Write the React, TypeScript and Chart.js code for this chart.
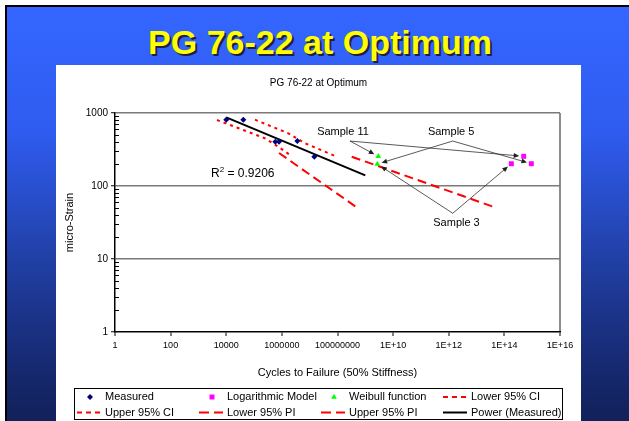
import React, { useEffect, useRef } from 'react';
import { Chart, registerables } from 'chart.js';
Chart.register(...registerables);

// ---- data ----
const measuredX = [1.0e4, 4.1e4, 5.8e5, 7.9e5, 3.6e6, 1.47e7];
const measuredY = [810, 810, 405, 405, 413, 252];
const logModelX = [4.95e14, 1.78e14, 9.3e14];
const logModelY = [255, 202, 202];
const weibullX = [2.93e9, 2.7e9];
const weibullY = [255, 200];
const lowerCIX = [4.65e3, 2.47e5, 7.45e5, 1.96e6];
const lowerCIY = [802, 450, 345, 266];
const upperCIX = [1.08e5, 1.7e6, 6.8e6, 9.4e7];
const upperCIY = [810, 527, 385, 252];
const lowerPIX = [7.9e5, 4.9e8];
const lowerPIY = [283, 51];
const upperPIX = [3.24e8, 5.3e13];
const upperPIY = [252, 50];
const powerX = [1e4, 1e9];
const powerY = [873, 140];

const xTickValues = [1, 1e2, 1e4, 1e6, 1e8, 1e10, 1e12, 1e14, 1e16];
const xTickLabels = ['1', '100', '10000', '1000000', '100000000', '1E+10', '1E+12', '1E+14', '1E+16'];
const yTickValues = [1, 10, 100, 1000];
const yTickLabels = ['1', '10', '100', '1000'];

const seriesNames = [
  'Measured', 'Logarithmic Model', 'Weibull function', 'Lower 95% CI',
  'Upper 95% CI', 'Lower 95% PI', 'Upper 95% PI', 'Power (Measured)',
];

const chartTitle = 'PG 76-22 at Optimum';
const slideTitle = 'PG 76-22 at Optimum';
const rSquaredText = '0.9206';
const rSquaredAt = { x: 2830, y: 152 };

// callouts: label position, line origin, and [dataset, point] targets
const callouts = [
  { text: 'Sample 11', tx: 1.58e8, ty: 545, ox: 2.81e8, oy: 413, targets: [[2, 0], [1, 0]] },
  { text: 'Sample 5', tx: 1.22e12, ty: 545, ox: 1.39e12, oy: 413, targets: [[2, 1], [1, 2]] },
  { text: 'Sample 3', tx: 1.9e12, ty: 30.8, ox: 1.39e12, oy: 42.3, targets: [[2, 1], [1, 1]] },
];

const FONT = "Arial, 'Liberation Sans', sans-serif";

const zip = (xs: number[], ys: number[]) => xs.map((x, i) => ({ x, y: ys[i] }));

const legendDash: Record<number, number[]> = { 3: [5, 4], 4: [5, 4], 5: [10, 5], 6: [10, 5], 7: [] };

function drawMarker(ctx: CanvasRenderingContext2D, style: string, r: number, x: number, y: number) {
  ctx.beginPath();
  if (style === 'rectRot') {
    ctx.moveTo(x, y - r);
    ctx.lineTo(x + r, y);
    ctx.lineTo(x, y + r);
    ctx.lineTo(x - r, y);
  } else if (style === 'rect') {
    const s = r * Math.SQRT1_2;
    ctx.rect(x - s, y - s, 2 * s, 2 * s);
  } else if (style === 'triangle') {
    ctx.moveTo(x, y - r);
    ctx.lineTo(x + r * Math.sin((2 * Math.PI) / 3), y - r * Math.cos((2 * Math.PI) / 3));
    ctx.lineTo(x + r * Math.sin((4 * Math.PI) / 3), y - r * Math.cos((4 * Math.PI) / 3));
  }
  ctx.closePath();
  ctx.fill();
}

const overlayPlugin = {
  id: 'overlay',
  afterDatasetsDraw(chart: any) {
    const ctx = chart.ctx as CanvasRenderingContext2D;
    const xs = chart.scales.x;
    const ys = chart.scales.y;
    const area = chart.chartArea;
    ctx.save();
    // chart title, centred on the panel
    ctx.font = `10px ${FONT}`;
    ctx.fillStyle = '#000';
    ctx.textAlign = 'center';
    ctx.textBaseline = 'middle';
    ctx.fillText(chartTitle, chart.width / 2, 18);
    // minor ticks on y axis (inside)
    ctx.strokeStyle = '#000';
    ctx.lineWidth = 1;
    for (let k = 0; k < 3; k++) {
      for (let m = 2; m <= 9; m++) {
        const py = Math.round(ys.getPixelForValue(m * Math.pow(10, k))) + 0.5;
        ctx.beginPath();
        ctx.moveTo(area.left, py);
        ctx.lineTo(area.left + 4, py);
        ctx.stroke();
      }
    }
    // callouts
    ctx.font = `11px ${FONT}`;
    ctx.fillStyle = '#000';
    ctx.textAlign = 'center';
    ctx.textBaseline = 'middle';
    callouts.forEach((c) => {
      ctx.fillStyle = '#000';
      ctx.fillText(c.text, xs.getPixelForValue(c.tx), ys.getPixelForValue(c.ty));
      const ox = xs.getPixelForValue(c.ox);
      const oy = ys.getPixelForValue(c.oy);
      c.targets.forEach(([di, pi]) => {
        const pt = chart.data.datasets[di].data[pi];
        const px = xs.getPixelForValue(pt.x);
        const py = ys.getPixelForValue(pt.y);
        const dx = px - ox;
        const dy = py - oy;
        const len = Math.hypot(dx, dy);
        const ux = dx / len;
        const uy = dy / len;
        const ex = px - ux * 4.5;
        const ey = py - uy * 4.5;
        ctx.strokeStyle = '#303030';
        ctx.lineWidth = 0.8;
        ctx.beginPath();
        ctx.moveTo(ox, oy);
        ctx.lineTo(ex - ux * 4, ey - uy * 4);
        ctx.stroke();
        ctx.fillStyle = '#202020';
        ctx.beginPath();
        ctx.moveTo(ex, ey);
        ctx.lineTo(ex - ux * 5.5 - uy * 2.5, ey - uy * 5.5 + ux * 2.5);
        ctx.lineTo(ex - ux * 5.5 + uy * 2.5, ey - uy * 5.5 - ux * 2.5);
        ctx.closePath();
        ctx.fill();
      });
    });
    // R squared
    ctx.fillStyle = '#000';
    ctx.textAlign = 'left';
    ctx.textBaseline = 'alphabetic';
    let rx = xs.getPixelForValue(rSquaredAt.x);
    const ry = ys.getPixelForValue(rSquaredAt.y) + 4.5;
    ctx.font = `12px ${FONT}`;
    ctx.fillText('R', rx, ry);
    rx += ctx.measureText('R').width;
    ctx.font = `8px ${FONT}`;
    ctx.fillText('2', rx, ry - 5);
    rx += ctx.measureText('2').width;
    ctx.font = `12px ${FONT}`;
    ctx.fillText(' = ' + rSquaredText, rx, ry);
    ctx.restore();
  },
  afterDraw(chart: any) {
    const ctx = chart.ctx as CanvasRenderingContext2D;
    ctx.save();
    ctx.strokeStyle = '#000';
    ctx.lineWidth = 1;
    ctx.strokeRect(18.5, 323.5, 488, 31);
    const textX = [49, 171, 293, 415];
    const rowY = [332, 347.5];
    ctx.font = `11px ${FONT}`;
    ctx.textBaseline = 'middle';
    ctx.textAlign = 'left';
    chart.data.datasets.forEach((ds: any, i: number) => {
      const col = i % 4;
      const row = Math.floor(i / 4);
      const tx = textX[col];
      const ty = rowY[row];
      if (ds.showLine) {
        ctx.save();
        ctx.strokeStyle = ds.borderColor;
        ctx.lineWidth = ds.borderWidth;
        ctx.setLineDash(legendDash[i] || []);
        ctx.beginPath();
        ctx.moveTo(tx - 28, ty);
        ctx.lineTo(tx - 4, ty);
        ctx.stroke();
        ctx.restore();
      } else {
        ctx.save();
        ctx.fillStyle = ds.backgroundColor;
        drawMarker(ctx, ds.pointStyle, ds.pointRadius, tx - 15, ty);
        ctx.restore();
      }
      ctx.fillStyle = '#000';
      ctx.fillText(ds.label, tx, ty);
    });
    ctx.restore();
  },
};

export default function App() {
  const canvasRef = useRef<HTMLCanvasElement | null>(null);

  useEffect(() => {
    document.body.style.margin = '0';
    const canvas = canvasRef.current;
    if (!canvas) return;
    Chart.defaults.font.family = FONT;
    Chart.defaults.color = '#000';

    const pointDs = (label: string, xs: number[], ys: number[], color: string, style: string, r: number) => ({
      label,
      data: zip(xs, ys),
      showLine: false,
      pointStyle: style,
      pointRadius: r,
      backgroundColor: color,
      borderColor: color,
      pointBorderWidth: 0,
    });
    const lineDs = (label: string, xs: number[], ys: number[], color: string, dash: number[], w: number) => ({
      label,
      data: zip(xs, ys),
      showLine: true,
      pointRadius: 0,
      borderColor: color,
      backgroundColor: color,
      borderWidth: w,
      borderDash: dash,
      tension: 0,
      fill: false,
    });

    const chart = new Chart(canvas, {
      type: 'scatter',
      data: {
        datasets: [
          pointDs(seriesNames[0], measuredX, measuredY, '#000080', 'rectRot', 3),
          pointDs(seriesNames[1], logModelX, logModelY, '#FF00FF', 'rect', 3.5),
          pointDs(seriesNames[2], weibullX, weibullY, '#00FF00', 'triangle', 3.3),
          lineDs(seriesNames[3], lowerCIX, lowerCIY, '#FF0000', [3, 4], 2),
          lineDs(seriesNames[4], upperCIX, upperCIY, '#FF0000', [3, 4], 2),
          lineDs(seriesNames[5], lowerPIX, lowerPIY, '#FF0000', [9, 5], 2),
          lineDs(seriesNames[6], upperPIX, upperPIY, '#FF0000', [9, 5], 2),
          lineDs(seriesNames[7], powerX, powerY, '#000000', [], 2),
        ] as any,
      },
      options: {
        animation: false,
        responsive: false,
        maintainAspectRatio: false,
        events: [],
        layout: { padding: { top: 48, right: 21, left: 0, bottom: 39 } },
        plugins: {
          legend: { display: false },
          tooltip: { enabled: false },
          title: { display: false },
        },
        scales: {
          x: {
            type: 'logarithmic',
            min: 1,
            max: 1e16,
            afterBuildTicks: (scale: any) => {
              scale.ticks = xTickValues.map((v) => ({ value: v }));
            },
            afterFit: (scale: any) => {
              scale.height = 50;
            },
            ticks: {
              autoSkip: false,
              maxRotation: 0,
              padding: 4,
              font: { size: 9 },
              color: '#000',
              callback: (v: any) => {
                const i = xTickValues.indexOf(Number(v));
                return i >= 0 ? xTickLabels[i] : '';
              },
            },
            grid: {
              color: (c: any) => (c.tick && c.tick.value === 1e16 ? '#8c8c8c' : 'rgba(0,0,0,0)'),
              lineWidth: 2,
              tickLength: 4,
              tickColor: '#000',
              tickWidth: 1,
            },
            border: { display: true, color: '#000', width: 1.5 },
            title: {
              display: true,
              text: 'Cycles to Failure (50% Stiffness)',
              font: { size: 11 },
              color: '#000',
              padding: { top: 0, bottom: 2.4 },
            },
          },
          y: {
            type: 'logarithmic',
            min: 1,
            max: 1000,
            afterBuildTicks: (scale: any) => {
              scale.ticks = yTickValues.map((v) => ({ value: v }));
            },
            afterFit: (scale: any) => {
              scale.width = 59;
            },
            ticks: {
              padding: 3,
              font: { size: 10 },
              color: '#000',
              callback: (v: any) => {
                const i = yTickValues.indexOf(Number(v));
                return i >= 0 ? yTickLabels[i] : '';
              },
            },
            grid: {
              color: (c: any) => (c.tick && c.tick.value === 1 ? 'rgba(0,0,0,0)' : '#7a7a7a'),
              lineWidth: 1.5,
              tickLength: 4,
              tickColor: '#000',
              tickWidth: 1,
            },
            border: { display: true, color: '#000', width: 1.5 },
            title: {
              display: true,
              text: 'micro-Strain',
              font: { size: 11 },
              color: '#000',
              padding: { top: 7.4, bottom: 0 },
            },
          },
        },
      },
      plugins: [overlayPlugin],
    } as any);

    return () => chart.destroy();
  }, []);

  return (
    <div style={{ position: 'fixed', left: 0, top: 0, width: 629, height: 421, background: '#ffffff', overflow: 'hidden' }}>
      <div
        style={{
          position: 'absolute',
          left: 5,
          top: 5,
          width: 624,
          height: 416,
          boxSizing: 'border-box',
          borderTop: '2px solid #000',
          borderLeft: '2px solid #000',
          background: 'linear-gradient(to bottom, #3466ff 0%, #2f5cf0 30%, #1f3c9c 65%, #172a74 85%, #12215a 100%)',
        }}
      />
      <div
        style={{
          position: 'absolute',
          left: 0,
          top: 25,
          width: 640,
          textAlign: 'center',
          fontFamily: FONT,
          fontWeight: 'bold',
          fontSize: 34,
          lineHeight: '34px',
          color: '#FFFF00',
          textShadow: '2px 2px 0 #202040',
          whiteSpace: 'nowrap',
        }}
      >
        {slideTitle}
      </div>
      <div style={{ position: 'absolute', left: 56, top: 65, width: 525, height: 356, background: '#fff' }}>
        <canvas ref={canvasRef} width={525} height={356} style={{ width: 525, height: 356, display: 'block' }} />
      </div>
    </div>
  );
}
